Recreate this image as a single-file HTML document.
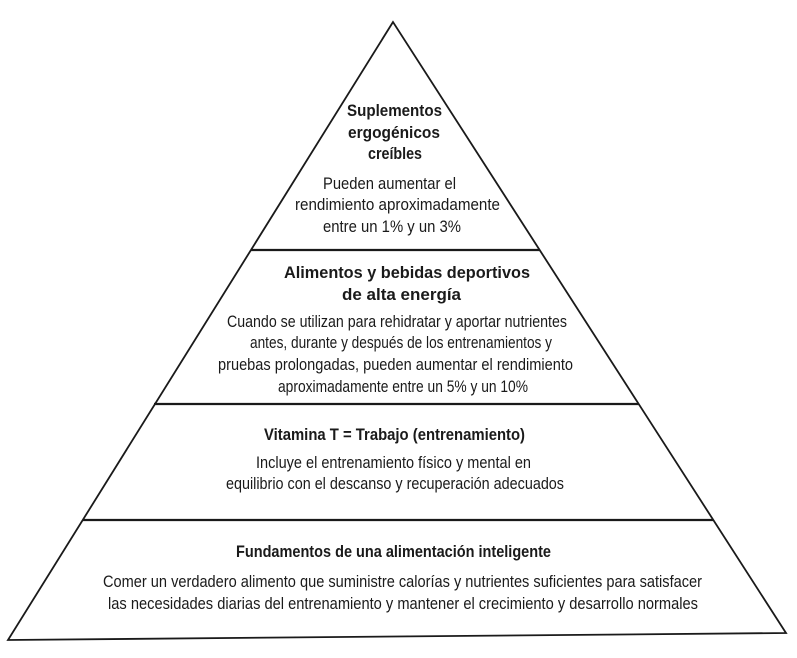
<!DOCTYPE html>
<html><head><meta charset="utf-8"><style>
html,body{margin:0;padding:0;background:#fff;}
svg{display:block;}
text{font-family:"Liberation Sans",sans-serif;fill:#1a1a1a;text-anchor:start;}
.b{font-weight:bold;font-size:17px;}
.n{font-size:17px;}
</style></head><body>
<svg width="797" height="658" viewBox="0 0 797 658" xmlns="http://www.w3.org/2000/svg">
<rect width="797" height="658" fill="#fff"/>
<polygon points="393,22 8,640 786,633" fill="none" stroke="#1a1a1a" stroke-width="1.8"/>
<line x1="251" y1="250" x2="540" y2="250" stroke="#1a1a1a" stroke-width="2.2"/>
<line x1="154" y1="404" x2="639" y2="404" stroke="#1a1a1a" stroke-width="2.2"/>
<line x1="83" y1="520" x2="713" y2="520" stroke="#1a1a1a" stroke-width="2.2"/>

<text class="b" x="347" y="116" textLength="95" lengthAdjust="spacingAndGlyphs">Suplementos</text>
<text class="b" x="348" y="138" textLength="92" lengthAdjust="spacingAndGlyphs">ergogénicos</text>
<text class="b" x="368" y="159" textLength="54" lengthAdjust="spacingAndGlyphs">creíbles</text>
<text class="n" x="323" y="189" textLength="133" lengthAdjust="spacingAndGlyphs">Pueden aumentar el</text>
<text class="n" x="295" y="210" textLength="205" lengthAdjust="spacingAndGlyphs">rendimiento aproximadamente</text>
<text class="n" x="323" y="232" textLength="138" lengthAdjust="spacingAndGlyphs">entre un 1% y un 3%</text>

<text class="b" x="284" y="278" textLength="246" lengthAdjust="spacingAndGlyphs">Alimentos y bebidas deportivos</text>
<text class="b" x="342" y="300" textLength="119" lengthAdjust="spacingAndGlyphs">de alta energía</text>
<text class="n" x="227" y="327" textLength="340" lengthAdjust="spacingAndGlyphs">Cuando se utilizan para rehidratar y aportar nutrientes</text>
<text class="n" x="250" y="348" textLength="302" lengthAdjust="spacingAndGlyphs">antes, durante y después de los entrenamientos y</text>
<text class="n" x="218" y="370" textLength="355" lengthAdjust="spacingAndGlyphs">pruebas prolongadas, pueden aumentar el rendimiento</text>
<text class="n" x="278" y="392" textLength="250" lengthAdjust="spacingAndGlyphs">aproximadamente entre un 5% y un 10%</text>

<text class="b" x="264" y="440" textLength="261" lengthAdjust="spacingAndGlyphs">Vitamina T = Trabajo (entrenamiento)</text>
<text class="n" x="256" y="468" textLength="275" lengthAdjust="spacingAndGlyphs">Incluye el entrenamiento físico y mental en</text>
<text class="n" x="226" y="489" textLength="338" lengthAdjust="spacingAndGlyphs">equilibrio con el descanso y recuperación adecuados</text>

<text class="b" x="236" y="557" textLength="315" lengthAdjust="spacingAndGlyphs">Fundamentos de una alimentación inteligente</text>
<text class="n" x="103" y="587" textLength="599" lengthAdjust="spacingAndGlyphs">Comer un verdadero alimento que suministre calorías y nutrientes suficientes para satisfacer</text>
<text class="n" x="108" y="609" textLength="590" lengthAdjust="spacingAndGlyphs">las necesidades diarias del entrenamiento y mantener el crecimiento y desarrollo normales</text>
</svg>
</body></html>
